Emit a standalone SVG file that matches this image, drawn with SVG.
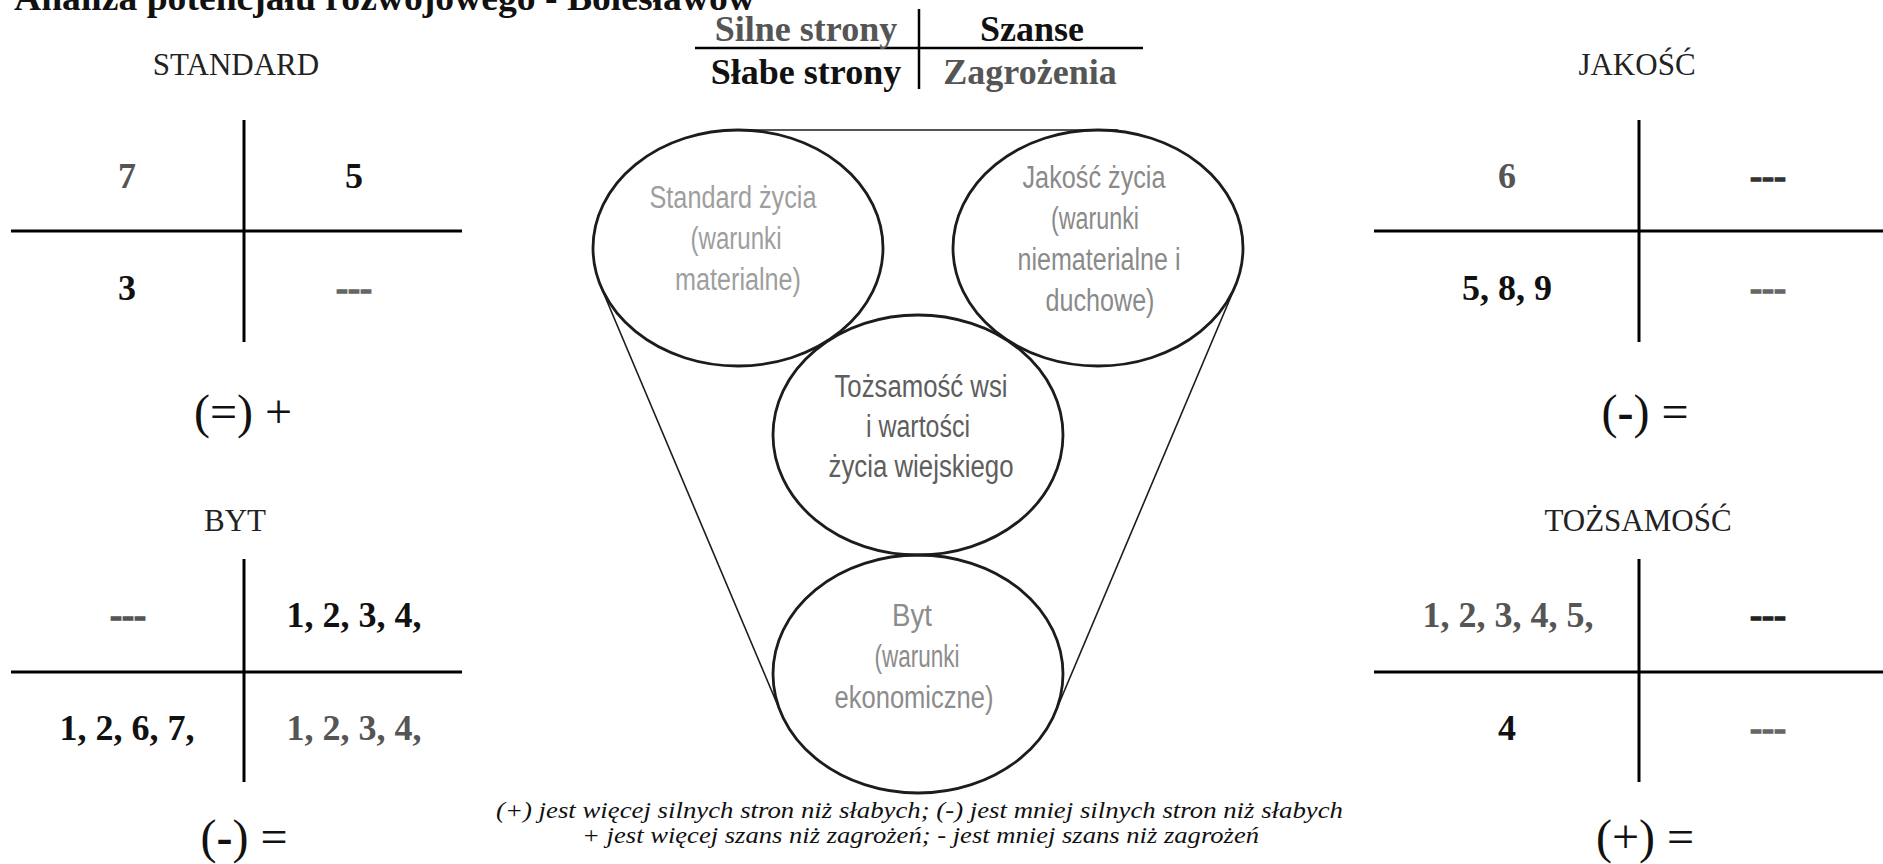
<svg xmlns="http://www.w3.org/2000/svg" width="1883" height="864" viewBox="0 0 1883 864">
<style>
  .b{font-family:"Liberation Serif","Times New Roman",serif;font-weight:bold;}
  .lbl{font-family:"Liberation Serif","Times New Roman",serif;font-size:31px;fill:#222;text-anchor:middle;}
  .num{font-family:"Liberation Serif","Times New Roman",serif;font-weight:bold;font-size:36px;text-anchor:middle;}
  .blk{fill:#111;}
  .gry{fill:#555;}
  .dash{fill:#666;}
  .dsh{stroke-width:1.4;}
  .res{font-family:"Liberation Serif","Times New Roman",serif;font-size:48px;fill:#111;text-anchor:middle;}
  .grid{stroke:#000;stroke-width:3;fill:none;}
  .hdr{stroke:#000;stroke-width:2.5;fill:none;}
  .ell{fill:none;stroke:#1c1c1c;stroke-width:2.8;}
  .con{fill:none;stroke:#1c1c1c;stroke-width:1.6;}
  .ct{font-family:"Liberation Sans Narrow","Liberation Sans",Arial,sans-serif;font-size:31px;text-anchor:middle;}
  .foot{font-family:"Liberation Serif","Times New Roman",serif;font-style:italic;font-size:23px;fill:#111;}
</style>
<rect width="1883" height="864" fill="#fff"/>

<g id="title">
  <text class="b" x="14" y="10" font-size="36" fill="#111" textLength="741" lengthAdjust="spacingAndGlyphs">Analiza potencjału rozwojowego - Bolesławów</text>
</g>

<g id="legend-table">
  <line class="hdr" x1="919" y1="9" x2="919" y2="89"/>
  <line class="hdr" x1="695" y1="48" x2="1143" y2="48"/>
  <text class="num gry" x="806" y="41" font-size="34">Silne strony</text>
  <text class="num blk" x="1032" y="41" font-size="34">Szanse</text>
  <text class="num blk" x="806" y="84" font-size="34">Słabe strony</text>
  <text class="num gry" x="1030" y="84" font-size="34">Zagrożenia</text>
</g>

<g id="standard">
  <text class="lbl" x="236" y="75">STANDARD</text>
  <line class="grid" x1="244" y1="120" x2="244" y2="342"/>
  <line class="grid" x1="11" y1="231" x2="462" y2="231"/>
  <text class="num gry" x="127" y="188">7</text>
  <text class="num blk" x="354" y="188">5</text>
  <text class="num blk" x="127" y="300">3</text>
  <text class="num dash dsh" stroke="#666" x="354" y="300">---</text>
  <text class="res" x="243" y="428">(=) +</text>
</g>

<g id="jakosc">
  <text class="lbl" x="1637" y="75">JAKOŚĆ</text>
  <line class="grid" x1="1639" y1="120" x2="1639" y2="342"/>
  <line class="grid" x1="1374" y1="231" x2="1883" y2="231"/>
  <text class="num gry" x="1507" y="188">6</text>
  <text class="num dsh" fill="#333" stroke="#333" x="1768" y="188">---</text>
  <text class="num blk" x="1507" y="300">5, 8, 9</text>
  <text class="num dash dsh" stroke="#666" x="1768" y="300">---</text>
  <text class="res" x="1645" y="428">(<tspan font-weight="bold">-</tspan>) =</text>
</g>

<g id="byt">
  <text class="lbl" x="235" y="531">BYT</text>
  <line class="grid" x1="244" y1="559" x2="244" y2="782"/>
  <line class="grid" x1="11" y1="672" x2="462" y2="672"/>
  <text class="num gry dsh" stroke="#555" x="128" y="627">---</text>
  <text class="num blk" x="354" y="627">1, 2, 3, 4,</text>
  <text class="num blk" x="127" y="740">1, 2, 6, 7,</text>
  <text class="num gry" x="354" y="740">1, 2, 3, 4,</text>
  <text class="res" x="244" y="853">(<tspan font-weight="bold">-</tspan>) =</text>
</g>

<g id="tozsamosc">
  <text class="lbl" x="1638" y="531">TOŻSAMOŚĆ</text>
  <line class="grid" x1="1639" y1="559" x2="1639" y2="782"/>
  <line class="grid" x1="1374" y1="672" x2="1883" y2="672"/>
  <text class="num gry" x="1508" y="627">1, 2, 3, 4, 5,</text>
  <text class="num dsh" fill="#222" stroke="#222" x="1768" y="627">---</text>
  <text class="num blk" x="1507" y="740">4</text>
  <text class="num dash dsh" stroke="#666" x="1768" y="740">---</text>
  <text class="res" x="1645" y="853">(+) =</text>
</g>

<g id="connectors">
  <line class="con" x1="723" y1="130" x2="1118" y2="130"/>
  <line class="con" x1="601" y1="287" x2="781" y2="713"/>
  <line class="con" x1="1235" y1="287" x2="1055" y2="713"/>
</g>

<g id="node-standard-zycia">
  <ellipse class="ell" cx="738" cy="248" rx="145" ry="118"/>
  <text class="ct" fill="#9e9e9e" x="733" y="208" textLength="167" lengthAdjust="spacingAndGlyphs">Standard życia</text>
  <text class="ct" fill="#9e9e9e" x="736" y="249" textLength="91" lengthAdjust="spacingAndGlyphs">(warunki</text>
  <text class="ct" fill="#9e9e9e" x="738" y="290" textLength="126" lengthAdjust="spacingAndGlyphs">materialne)</text>
</g>

<g id="node-jakosc-zycia">
  <ellipse class="ell" cx="1098" cy="248" rx="145" ry="118"/>
  <text class="ct" fill="#8a8a8a" x="1094" y="188" textLength="143" lengthAdjust="spacingAndGlyphs">Jakość życia</text>
  <text class="ct" fill="#8a8a8a" x="1095" y="229" textLength="88" lengthAdjust="spacingAndGlyphs">(warunki</text>
  <text class="ct" fill="#8a8a8a" x="1099" y="270" textLength="163" lengthAdjust="spacingAndGlyphs">niematerialne i</text>
  <text class="ct" fill="#8a8a8a" x="1100" y="311" textLength="109" lengthAdjust="spacingAndGlyphs">duchowe)</text>
</g>

<g id="node-tozsamosc-wsi">
  <ellipse class="ell" cx="918" cy="435" rx="145" ry="120"/>
  <text class="ct" fill="#5e5e5e" x="921" y="397" textLength="173" lengthAdjust="spacingAndGlyphs">Tożsamość wsi</text>
  <text class="ct" fill="#5e5e5e" x="918" y="437" textLength="104" lengthAdjust="spacingAndGlyphs">i wartości</text>
  <text class="ct" fill="#5e5e5e" x="921" y="477" textLength="185" lengthAdjust="spacingAndGlyphs">życia wiejskiego</text>
</g>

<g id="node-byt">
  <ellipse class="ell" cx="918" cy="674" rx="145" ry="119"/>
  <text class="ct" fill="#8c8c8c" x="912" y="626" textLength="40" lengthAdjust="spacingAndGlyphs">Byt</text>
  <text class="ct" fill="#8c8c8c" x="917" y="667" textLength="85" lengthAdjust="spacingAndGlyphs">(warunki</text>
  <text class="ct" fill="#8c8c8c" x="914" y="708" textLength="159" lengthAdjust="spacingAndGlyphs">ekonomiczne)</text>
</g>

<g id="footnote">
  <text class="foot" x="496" y="818" textLength="847" lengthAdjust="spacingAndGlyphs">(+) jest więcej silnych stron niż słabych; (-) jest mniej silnych stron niż słabych</text>
  <text class="foot" x="582" y="843" textLength="677" lengthAdjust="spacingAndGlyphs">+ jest więcej szans niż zagrożeń; - jest mniej szans niż zagrożeń</text>
</g>
</svg>
